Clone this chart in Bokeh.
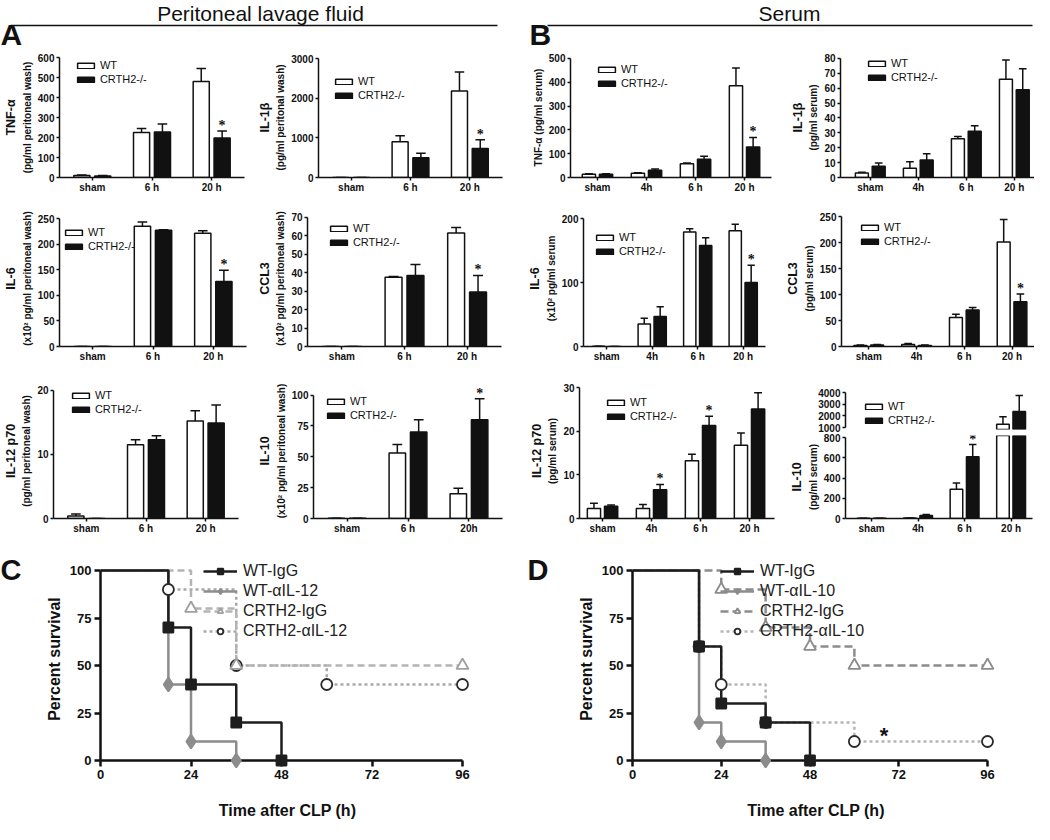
from bokeh.plotting import figure
from bokeh.models import (Range1d, FixedTicker, LinearAxis, Legend, LegendItem,
                          LabelSet, ColumnDataSource)
from bokeh.layouts import row, column
from bokeh.embed import file_html
from bokeh.resources import INLINE
from bokeh.core.properties import value
from bokeh.transform import dodge

FONT = "Liberation Sans"
INK = "#111111"

# ------------------------------------------------------------------ data
cats_a = ["sham", "6 h", "20 h"]
cats_a_il10 = ["sham", "6 h", "20h"]
cats_b = ["sham", "4h", "6 h", "20 h"]

# Panel A  (peritoneal lavage fluid)
tnf_a_wt = [10, 225, 480];      tnf_a_wt_err = [3, 20, 65]
tnf_a_ko = [8, 228, 197];       tnf_a_ko_err = [2, 40, 35]
tnf_a_sig = [0, 0, 1];          tnf_a_ticks = [0, 100, 200, 300, 400, 500, 600]

il1b_a_wt = [0, 900, 2180];     il1b_a_wt_err = [0, 150, 480]
il1b_a_ko = [0, 500, 730];      il1b_a_ko_err = [0, 110, 220]
il1b_a_sig = [0, 0, 1];         il1b_a_ticks = [0, 1000, 2000, 3000]

il6_a_wt = [0, 235, 221];       il6_a_wt_err = [0, 8, 5]
il6_a_ko = [0, 227, 127];       il6_a_ko_err = [0, 1, 22]
il6_a_sig = [0, 0, 1];          il6_a_ticks = [0, 50, 100, 150, 200, 250]

ccl3_a_wt = [0, 37.5, 61.5];    ccl3_a_wt_err = [0, 0.5, 3]
ccl3_a_ko = [0, 38.5, 29.5];    ccl3_a_ko_err = [0, 6, 9]
ccl3_a_sig = [0, 0, 1];         ccl3_a_ticks = [0, 10, 20, 30, 40, 50, 60, 70]

il12_a_wt = [0.4, 11.5, 15.2];  il12_a_wt_err = [0.3, 0.8, 1.6]
il12_a_ko = [0, 12.3, 14.9];    il12_a_ko_err = [0, 0.6, 2.8]
il12_a_sig = [0, 0, 0];         il12_a_ticks = [0, 10, 20]

il10_a_wt = [0.3, 53, 20];      il10_a_wt_err = [0, 7, 4.5]
il10_a_ko = [0.3, 70, 80];      il10_a_ko_err = [0, 10, 17]
il10_a_sig = [0, 0, 1];         il10_a_ticks = [0, 25, 50, 75, 100]

# Panel B  (serum)
tnf_b_wt = [14, 18, 58, 385];   tnf_b_wt_err = [2, 2, 3, 75]
tnf_b_ko = [14, 30, 77, 128];   tnf_b_ko_err = [2, 6, 12, 40]
tnf_b_sig = [0, 0, 0, 1];       tnf_b_ticks = [0, 100, 200, 300, 400, 500]

il1b_b_wt = [3, 6.2, 26, 66];   il1b_b_wt_err = [0.5, 4.3, 1.5, 13]
il1b_b_ko = [7.5, 11.7, 31, 59]; il1b_b_ko_err = [2.3, 4.2, 3.7, 14]
il1b_b_sig = [0, 0, 0, 0];      il1b_b_ticks = [0, 10, 20, 30, 40, 50, 60, 70, 80]

il6_b_wt = [0.5, 35, 179, 181]; il6_b_wt_err = [0, 9, 5, 10]
il6_b_ko = [0, 47, 158, 100];   il6_b_ko_err = [0, 15, 12, 27]
il6_b_sig = [0, 0, 0, 1];       il6_b_ticks = [0, 100, 200]

ccl3_b_wt = [2, 4, 56, 201];    ccl3_b_wt_err = [1, 2, 6, 43]
ccl3_b_ko = [3, 2, 70, 86];     ccl3_b_ko_err = [1, 1, 5, 15]
ccl3_b_sig = [0, 0, 0, 1];      ccl3_b_ticks = [0, 50, 100, 150, 200, 250]

il12_b_wt = [2.3, 2.3, 13.2, 16.8]; il12_b_wt_err = [1.2, 0.9, 1.5, 2.8]
il12_b_ko = [2.8, 6.6, 21.3, 25.1]; il12_b_ko_err = [0.3, 1.2, 2.1, 3.7]
il12_b_sig = [0, 1, 1, 0];          il12_b_ticks = [0, 10, 20, 30]

il10_b_wt = [3, 4, 290, 1270];  il10_b_wt_err = [0, 0, 60, 650]
il10_b_ko = [3, 30, 610, 2370]; il10_b_ko_err = [0, 10, 120, 1370]
il10_b_sig = [0, 0, 1, 0]
il10_b_ticks_low = [0, 200, 400, 600, 800]
il10_b_ticks_high = [1000, 2000, 3000, 4000]

# Panels C and D (survival, percent vs hours)
surv_xticks = [0, 24, 48, 72, 96]
surv_yticks = [0, 25, 50, 75, 100]

c_wt_igg_t = [0, 18, 24, 36, 48];      c_wt_igg_s = [100, 70, 40, 20, 0]
c_wt_ail12_t = [0, 18, 24, 36];        c_wt_ail12_s = [100, 40, 10, 0]
c_crth2_igg_t = [0, 24, 36, 96];       c_crth2_igg_s = [100, 80, 50, 50]
c_crth2_ail12_t = [0, 18, 36, 60, 96]; c_crth2_ail12_s = [100, 90, 50, 40, 40]

d_wt_igg_t = [0, 18, 24, 36, 48];          d_wt_igg_s = [100, 60, 30, 20, 0]
d_wt_ail10_t = [0, 18, 24, 36];            d_wt_ail10_s = [100, 20, 10, 0]
d_crth2_igg_t = [0, 24, 36, 48, 60, 96];   d_crth2_igg_s = [100, 90, 70, 60, 50, 50]
d_crth2_ail10_t = [0, 18, 24, 36, 60, 96]; d_crth2_ail10_s = [100, 60, 40, 20, 10, 10]
d_star_t = [68]; d_star_s = [13]

# ------------------------------------------------------------------ layout constants
COLS = [(8, 262), (262, 532), (532, 790), (790, 1042)]
HDR = (8, 59)
ROWS = [(59, 212), (212, 385), (385, 546)]
SURV_ROW = (546, 832)
OFF, BW, CAP = 0.175, 0.27, 0.08


def lin(v0, v1, p0, p1, q):
    return v0 + (q - p0) * (v1 - v0) / (p1 - p0)


def base_fig(col, rowy, frame, xr, yr, x_axis=True):
    cl, cr = col
    rt, rb = rowy
    fl, ft, fr, fb = frame
    p = figure(width=cr - cl, height=rb - rt, x_range=xr, y_range=yr,
               min_border_left=fl - cl, min_border_right=cr - fr,
               min_border_top=ft - rt, min_border_bottom=rb - fb,
               x_axis_location="below" if x_axis else None,
               output_backend="svg", toolbar_location=None)
    p.grid.visible = False
    p.outline_line_color = None
    p.background_fill_color = "white"
    p.border_fill_color = "white"
    return p


def style_axis(ax, size="10px", lw=1.5, tick=3):
    ax.axis_line_color = INK
    ax.axis_line_width = lw
    ax.major_tick_line_color = INK
    ax.major_tick_line_width = lw
    ax.major_tick_out = tick
    ax.major_tick_in = 0
    ax.minor_tick_line_color = None
    ax.major_label_text_font = FONT
    ax.major_label_text_font_style = "bold"
    ax.major_label_text_font_size = size
    ax.major_label_text_color = INK
    ax.major_label_standoff = 2
    ax.axis_label_text_font = FONT
    ax.axis_label_text_font_style = "bold"
    ax.axis_label_text_color = INK


def text_fig(width, height, x0, y0, texts, xs, ys, sizes, styles):
    """A bare figure (no axes) whose frame is the whole canvas, used for titles and panel letters."""
    p = figure(width=width, height=height, x_range=Range1d(x0, x0 + width),
               y_range=Range1d(y0 + height, y0), x_axis_location=None, y_axis_location=None,
               min_border=0, output_backend="svg", toolbar_location=None)
    p.grid.visible = False
    p.outline_line_color = None
    p.background_fill_color = "white"
    p.border_fill_color = "white"
    for t, x, y, s, st in zip(texts, xs, ys, sizes, styles):
        p.text(x=[x], y=[y], text=[t], text_align=st[0], text_baseline="middle",
               text_font=value(FONT), text_font_style=st[1], text_font_size=s, text_color=INK)
    return p


def bar_panel(cats, wt, wt_err, ko, ko_err, sig, ticks, col, rowy, fl, ft0, fr, fb, xlim,
              lab_in, lab_out=None, leg=None, yr=None, frame_top=None,
              x_axis=True, show_labels=True):
    if yr is None:
        ext = max(0, min(14, ft0 - rowy[0] - 6))
        frame_top = ft0 - ext
        yr = (0, lin(0, ticks[-1], fb, ft0, frame_top))
    frame = (fl, frame_top, fr, fb)
    p = base_fig(col, rowy, frame, Range1d(*xlim), Range1d(*yr), x_axis=x_axis)

    wt_hi = [a + b for a, b in zip(wt, wt_err)]
    ko_hi = [a + b for a, b in zip(ko, ko_err)]
    keep = [i for i in range(len(cats)) if yr[0] <= 0 or max(wt_hi[i], ko_hi[i]) > yr[0]]
    src = ColumnDataSource(dict(idx=keep, wt=[wt[i] for i in keep], ko=[ko[i] for i in keep],
                                wt_hi=[wt_hi[i] for i in keep], ko_hi=[ko_hi[i] for i in keep]))
    r_wt = p.vbar(x=dodge("idx", -OFF), top="wt", width=BW, source=src,
                  fill_color="white", line_color=INK, line_width=1.5)
    r_ko = p.vbar(x=dodge("idx", OFF), top="ko", width=BW, source=src,
                  fill_color=INK, line_color=INK, line_width=1.5)
    for off, lo, hi in ((-OFF, "wt", "wt_hi"), (OFF, "ko", "ko_hi")):
        p.segment(x0=dodge("idx", off), x1=dodge("idx", off), y0=lo, y1=hi, source=src,
                  line_color=INK, line_width=1.5)
        p.segment(x0=dodge("idx", off - CAP), x1=dodge("idx", off + CAP), y0=hi, y1=hi,
                  source=src, line_color=INK, line_width=1.5)

    s_idx = [i for i, f in enumerate(sig) if f]
    if s_idx:
        ssrc = ColumnDataSource(dict(idx=s_idx, y=[ko_hi[i] for i in s_idx], txt=["*"] * len(s_idx)))
        p.add_layout(LabelSet(x=dodge("idx", OFF), y="y", text="txt", source=ssrc,
                              text_align="center", text_baseline="alphabetic", y_offset=1,
                              text_font=FONT, text_font_style="bold", text_font_size="14px",
                              text_color=INK))

    ya = p.yaxis[0]
    style_axis(ya)
    ya.ticker = FixedTicker(ticks=ticks)
    ya.bounds = (ticks[0], ticks[-1])
    if show_labels:
        ya.axis_label = lab_in
        ya.axis_label_text_font_size = "10px"
        ya.axis_label_standoff = 2
        if lab_out:
            ax2 = LinearAxis(ticker=FixedTicker(ticks=[]), axis_label=lab_out)
            ax2.axis_line_color = None
            ax2.major_tick_line_color = None
            ax2.minor_tick_line_color = None
            ax2.major_label_standoff = 0
            ax2.major_label_text_font_size = "0px"
            ax2.axis_label_standoff = 1
            ax2.axis_label_text_font = FONT
            ax2.axis_label_text_font_style = "bold"
            ax2.axis_label_text_font_size = "12.5px"
            ax2.axis_label_text_color = INK
            p.add_layout(ax2, "left")

    if x_axis:
        xa = p.xaxis[0]
        style_axis(xa)
        xa.major_label_standoff = 1
        xa.ticker = FixedTicker(ticks=list(range(len(cats))))
        xa.major_label_overrides = {i: c for i, c in enumerate(cats)}

    if leg:
        bx, wy = leg
        h = 11 * 1.117
        legend = Legend(items=[LegendItem(label="WT", renderers=[r_wt]),
                               LegendItem(label="CRTH2-/-", renderers=[r_ko])],
                        location=(bx - fl - 2.1, fb - (wy - h / 2 + 2 * h + 2)),
                        glyph_width=21, glyph_height=7, label_height=10, spacing=2,
                        padding=0, margin=0, label_standoff=4,
                        label_text_font=FONT, label_text_font_size="11px",
                        label_text_color=INK, border_line_color=None,
                        background_fill_alpha=0)
        p.add_layout(legend)
    return p


# ------------------------------------------------------------------ header (titles, rules, letters A/B)
hdr = text_fig(1034, HDR[1] - HDR[0], 8, 8,
               ["Peritoneal lavage fluid", "Serum", "A", "B"],
               [268, 797, 8, 537], [21, 21, 42, 42],
               ["21px", "21px", "30px", "30px"],
               [("center", "normal"), ("center", "normal"), ("left", "bold"), ("left", "bold")])
hdr.segment(x0=[18, 555], x1=[505, 1040], y0=[33, 33], y1=[33, 33], line_color=INK, line_width=1.6)

XA = (-0.55, 2.55)
PW = "(pg/ml peritoneal wash)"
PWX = "(x10\u00b2 pg/ml peritoneal wash)"

# row 1
p1 = bar_panel(cats_a, tnf_a_wt, tnf_a_wt_err, tnf_a_ko, tnf_a_ko_err, tnf_a_sig, tnf_a_ticks,
               COLS[0], ROWS[0], 55, 65, 252, 186, XA, PW, "TNF-\u03b1", leg=(73, 74))
p2 = bar_panel(cats_a, il1b_a_wt, il1b_a_wt_err, il1b_a_ko, il1b_a_ko_err, il1b_a_sig, il1b_a_ticks,
               COLS[1], ROWS[0], 313, 66, 510, 185, XA, "(pg/ml peritonal wash)", "IL-1\u03b2", leg=(330, 89))
p3 = bar_panel(cats_b, tnf_b_wt, tnf_b_wt_err, tnf_b_ko, tnf_b_ko_err, tnf_b_sig, tnf_b_ticks,
               COLS[2], ROWS[0], 578, 66, 779, 192, (-0.55, 3.55), "TNF-\u03b1 (pg/ml serum)", None,
               leg=(606, 84))
p4 = bar_panel(cats_b, il1b_b_wt, il1b_b_wt_err, il1b_b_ko, il1b_b_ko_err, il1b_b_sig, il1b_b_ticks,
               COLS[3], ROWS[0], 848, 66, 1042, 192, (-0.62, 3.42), "(pg/ml serum)", "IL-1\u03b2", leg=(876, 78))
# row 2
p5 = bar_panel(cats_a, il6_a_wt, il6_a_wt_err, il6_a_ko, il6_a_ko_err, il6_a_sig, il6_a_ticks,
               COLS[0], ROWS[1], 57, 226, 254, 354, XA, PWX, "IL-6", leg=(63, 240))
p6 = bar_panel(cats_a, ccl3_a_wt, ccl3_a_wt_err, ccl3_a_ko, ccl3_a_ko_err, ccl3_a_sig, ccl3_a_ticks,
               COLS[1], ROWS[1], 312, 225, 509, 356, XA, PWX, "CCL3", leg=(335, 238))
p7 = bar_panel(cats_b, il6_b_wt, il6_b_wt_err, il6_b_ko, il6_b_ko_err, il6_b_sig, il6_b_ticks,
               COLS[2], ROWS[1], 585, 226, 773, 354, (-0.51, 3.49), "(x10\u00b2 pg/ml serum", "IL-6", leg=(598, 245))
p8 = bar_panel(cats_b, ccl3_b_wt, ccl3_b_wt_err, ccl3_b_ko, ccl3_b_ko_err, ccl3_b_sig, ccl3_b_ticks,
               COLS[3], ROWS[1], 848, 224, 1042, 354, (-0.57, 3.47), "(pg/ml serum)", "CCL3", leg=(868, 235))
# row 3
p9 = bar_panel(cats_a, il12_a_wt, il12_a_wt_err, il12_a_ko, il12_a_ko_err, il12_a_sig, il12_a_ticks,
               COLS[0], ROWS[2], 49, 398, 246, 530, XA, PW, "IL-12 p70", leg=(68, 407))
p10 = bar_panel(cats_a_il10, il10_a_wt, il10_a_wt_err, il10_a_ko, il10_a_ko_err, il10_a_sig, il10_a_ticks,
                COLS[1], ROWS[2], 313, 403, 510, 531, XA, PWX, "IL-10", leg=(327, 414))
p11 = bar_panel(cats_b, il12_b_wt, il12_b_wt_err, il12_b_ko, il12_b_ko_err, il12_b_sig, il12_b_ticks,
                COLS[2], ROWS[2], 587, 395, 782, 526, (-0.47, 3.51), "(pg/ml serum)", "IL-12 p70", leg=(615, 410))
# IL-10 serum: broken axis = two stacked figures
XB10 = (-0.56, 3.46)
up_row = (385, 440)
lo_row = (440, 546)
p12u = bar_panel(cats_b, il10_b_wt, il10_b_wt_err, il10_b_ko, il10_b_ko_err, [0, 0, 0, 0],
                 il10_b_ticks_high, COLS[3], up_row, 853, None, 1040, 437, XB10, None,
                 yr=(lin(1000, 4000, 435, 400, 437), 4000), frame_top=400, x_axis=False,
                 show_labels=False, leg=(873, 414))
p12l = bar_panel(cats_b, il10_b_wt, il10_b_wt_err, il10_b_ko, il10_b_ko_err, il10_b_sig,
                 il10_b_ticks_low, COLS[3], lo_row, 853, None, 1040, 526, XB10, "(pg/ml serum)", "IL-10",
                 yr=(0, lin(0, 800, 526, 445, 443)), frame_top=443)


# ------------------------------------------------------------------ survival panels
def surv_panel(series, legend_order, col, rowy, fl, ft, fr, fb, leg, star=None):
    x_end = lin(0, 96, fl, fr, fr + 12)
    top_px = ft - 13
    frame = (fl, top_px, fr + 12, fb)
    p = base_fig(col, rowy, frame, Range1d(0, x_end), Range1d(0, lin(0, 100, fb, ft, top_px)))
    rend = {}
    for s in series:
        src = ColumnDataSource(dict(t=s["t"], s=s["s"]))
        lr = p.step(x="t", y="s", mode="after", source=src, line_color=s["color"],
                    line_width=2.5, line_dash=s["dash"])
        msrc = ColumnDataSource(dict(t=s["t"][1:], s=s["s"][1:]))
        mr = p.scatter(x="t", y="s", source=msrc, marker=s["marker"], size=s["size"],
                       fill_color=s["fill"], line_color=s["mline"], line_width=1.8, level="overlay")
        rend[s["label"]] = [lr, mr]
    xa = p.xaxis[0]
    ya = p.yaxis[0]
    for ax in (xa, ya):
        style_axis(ax, size="13px", lw=2.5, tick=6)
        ax.major_label_standoff = 3
        ax.axis_label_text_font_size = "16px"
    xa.ticker = FixedTicker(ticks=surv_xticks)
    xa.bounds = (0, 96)
    xa.axis_label = "Time after CLP (h)"
    xa.axis_label_standoff = 20
    ya.ticker = FixedTicker(ticks=surv_yticks)
    ya.bounds = (0, 100)
    ya.axis_label = "Percent survival"
    ya.axis_label_standoff = 4
    h = 16 * 1.117
    lx, ly = leg
    n = len(legend_order)
    legend = Legend(items=[LegendItem(label=k, renderers=rend[k]) for k in legend_order],
                    location=(lx - fl, fb - (ly - h / 2 + n * h + (n - 1) * 2)),
                    glyph_width=34, glyph_height=14, label_height=14, spacing=2,
                    padding=0, margin=0, label_standoff=6,
                    label_text_font=FONT, label_text_font_size="16px", label_text_color="#222222",
                    border_line_color=None, background_fill_alpha=0)
    p.add_layout(legend)
    if star:
        p.text(x=star[0], y=star[1], text=value("*"), text_align="center", text_baseline="middle",
               text_font=value(FONT), text_font_style="bold", text_font_size="22px", text_color=INK)
    return p


c_series = [
    dict(label="CRTH2-\u03b1IL-12", t=c_crth2_ail12_t, s=c_crth2_ail12_s, color="#a8a8a8", dash="3 3",
         marker="circle", size=11, fill="white", mline="#2a2a2a"),
    dict(label="CRTH2-IgG", t=c_crth2_igg_t, s=c_crth2_igg_s, color="#b4b4b4", dash="7 4",
         marker="triangle", size=12, fill="white", mline="#a0a0a0"),
    dict(label="WT-\u03b1IL-12", t=c_wt_ail12_t, s=c_wt_ail12_s, color="#8c8c8c", dash="solid",
         marker="diamond", size=14, fill="#8c8c8c", mline="#8c8c8c"),
    dict(label="WT-IgG", t=c_wt_igg_t, s=c_wt_igg_s, color="#1e1e1e", dash="solid",
         marker="square", size=10, fill="#1e1e1e", mline="#1e1e1e"),
]
d_series = [
    dict(label="CRTH2-\u03b1IL-10", t=d_crth2_ail10_t, s=d_crth2_ail10_s, color="#b4b4b4", dash="3 3",
         marker="circle", size=11, fill="white", mline="#2a2a2a"),
    dict(label="CRTH2-IgG", t=d_crth2_igg_t, s=d_crth2_igg_s, color="#8c8c8c", dash="8 4",
         marker="triangle", size=12, fill="white", mline="#8c8c8c"),
    dict(label="WT-\u03b1IL-10", t=d_wt_ail10_t, s=d_wt_ail10_s, color="#8c8c8c", dash="solid",
         marker="diamond", size=14, fill="#8c8c8c", mline="#8c8c8c"),
    dict(label="WT-IgG", t=d_wt_igg_t, s=d_wt_igg_s, color="#1e1e1e", dash="solid",
         marker="square", size=10, fill="#1e1e1e", mline="#1e1e1e"),
]

SURV_TOP, SURV_BOT = 578, 768
pc = surv_panel(c_series, ["WT-IgG", "WT-\u03b1IL-12", "CRTH2-IgG", "CRTH2-\u03b1IL-12"],
                (34, 532), SURV_ROW, 108, SURV_TOP, 470, SURV_BOT, (211, SURV_TOP + 1))
pd = surv_panel(d_series, ["WT-IgG", "WT-\u03b1IL-10", "CRTH2-IgG", "CRTH2-\u03b1IL-10"],
                (562, 1042), SURV_ROW, 640, SURV_TOP, 995, SURV_BOT, (728, SURV_TOP + 1),
                star=(d_star_t, d_star_s))
H_S = SURV_ROW[1] - SURV_ROW[0]
let_c = text_fig(26, H_S, 8, SURV_ROW[0], ["C"], [8], [563], ["29px"], [("left", "bold")])
let_d = text_fig(30, H_S, 532, SURV_ROW[0], ["D"], [535], [563], ["29px"], [("left", "bold")])

layout = column(
    hdr,
    row(p1, p2, p3, p4),
    row(p5, p6, p7, p8),
    row(p9, p10, p11, column(p12u, p12l)),
    row(let_c, pc, let_d, pd),
)

open("out.html", "w").write(file_html(layout, INLINE))
